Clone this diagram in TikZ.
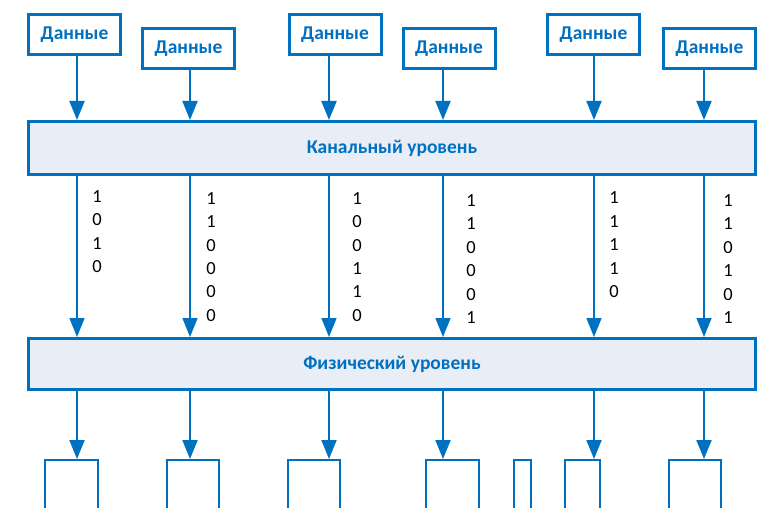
\documentclass[tikz,border=0pt]{standalone}
\usepackage{fontspec}
\setmainfont{Carlito}
\usetikzlibrary{arrows.meta,positioning}
\definecolor{netblue}{HTML}{0070C0}
\definecolor{netfill}{HTML}{E9EEF6}
\tikzset{
  dataBox/.style={draw=netblue, line width=3pt, fill=white, minimum width=92pt, minimum height=40pt, inner sep=0pt, text=netblue, font=\fontsize{19.5}{23}\selectfont\bfseries},
  layerBox/.style={draw=netblue, line width=3pt, fill=netfill, minimum width=727pt, inner sep=0pt, text=netblue, font=\fontsize{19.5}{23}\selectfont\bfseries},
  dataArrow/.style={-{Triangle[length=19pt, width=15pt]}, line width=2pt, draw=netblue},
  bitArrow/.style={dataArrow, line width=1.5pt},
  bitLabel/.style={inner sep=0pt, font=\fontsize{18.5}{22}\selectfont},
  pulseLine/.style={draw=netblue, line width=1.6pt}
}

\begin{document}
\begin{tikzpicture}[x=1pt, y=-1pt]
  \useasboundingbox (0,0) rectangle (763,508);
  % data blocks from the upper layer
  \foreach \i/\x/\y in {1/74.5/34.5, 2/188.5/48.5, 3/335/34.5, 4/449/48.5, 5/593.5/34.5, 6/709.5/48.5}
    \node[dataBox] (d\i) at (\x,\y) {Данные};
  \node[layerBox, minimum height=53pt] (kan) at (392,148) {Канальный уровень};
  \node[layerBox, minimum height=51pt] (phys) at (392,364) {Физический уровень};
  % arrow columns
  \foreach \i/\x in {1/77, 2/190, 3/329, 4/443, 5/594, 6/704}
    \coordinate (c\i) at (\x,0);
  \coordinate (sig) at (0,459);
  \foreach \i in {1,...,6} {
    \draw[dataArrow] (d\i.south -| c\i) -- (kan.north -| c\i);
    \draw[bitArrow] (kan.south -| c\i) -- (phys.north -| c\i);
    \draw[dataArrow] (phys.south -| c\i) -- (c\i |- sig);
  }
  % bit streams
  \foreach \col/\x/\y/\bits in {1/97/196.5/{1,0,1,0}, 2/211/198.3/{1,1,0,0,0,0}, 3/357/198.3/{1,0,0,1,1,0},
      4/471/200.5/{1,1,0,0,0,1}, 5/614/198/{1,1,1,1,0}, 6/728/200.5/{1,1,0,1,0,1}}
    \foreach \b [count=\r] in \bits
      \node[bitLabel] (b\col-\r) at ({\x},{\y+23.4*(\r-1)}) {\b};
  % line signal
  \foreach \a/\b in {45/98, 167/219, 288/340, 426/479, 514/531, 565/600, 669/721}
    \draw[pulseLine] (\a,512) -- (\a,459.8) -- (\b,459.8) -- (\b,512);
\end{tikzpicture}
\end{document}
